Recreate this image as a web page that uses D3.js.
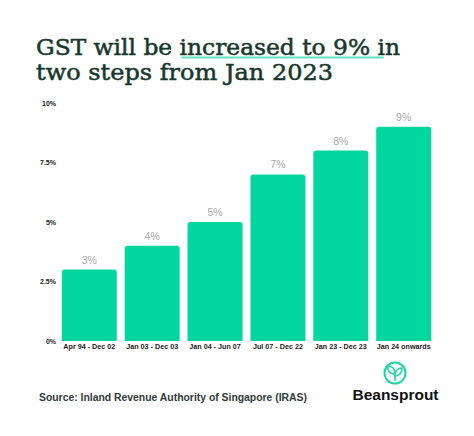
<!DOCTYPE html>
<html><head><meta charset="utf-8">
<script src="https://cdn.jsdelivr.net/npm/d3@7"></script>
<style>body{margin:0;background:#fff}svg{display:block}</style>
</head><body><svg id="c" width="474" height="436"></svg>
<script>
const categories = ["Apr 94 - Dec 02","Jan 03 - Dec 03","Jan 04 - Jun 07","Jul 07 - Dec 22","Jan 23 - Dec 23","Jan 24 onwards"];
const gstRates = [3,4,5,7,8,9];
const yTicks = [0,2.5,5,7.5,10];
const yTickLabels = ["0%","2.5%","5%","7.5%","10%"];
const titleLines = ["GST will be increased to 9% in","two steps from Jan 2023"];
const sourceText = "Source: Inland Revenue Authority of Singapore (IRAS)";

const svg = d3.select("#c");
svg.append("rect").attr("width",474).attr("height",436).attr("fill","#fff");

const x = d3.scaleBand().domain(categories).range([58,435]).paddingInner(0.125).paddingOuter(0.06);
const y = d3.scaleLinear().domain([0,10]).range([341,103]);

// title
const title = svg.append("g");
const tt = title.append("text")
  .attr("font-family","DejaVu Serif").attr("font-size",21.6).attr("fill","#17382f")
  .attr("stroke","#17382f").attr("stroke-width",0.5);
tt.append("tspan").attr("x",36).attr("y",54.5)
  .attr("textLength",364).attr("lengthAdjust","spacingAndGlyphs").text(titleLines[0]);
tt.append("tspan").attr("x",36).attr("y",80)
  .attr("textLength",297).attr("lengthAdjust","spacingAndGlyphs").text(titleLines[1]);
title.append("line").attr("x1",182).attr("x2",383).attr("y1",57.5).attr("y2",57.5)
  .attr("stroke","#5fe3c3").attr("stroke-width",2).attr("stroke-linecap","round");

// y axis labels
const yAxis = d3.axisLeft(y).tickValues(yTicks).tickFormat((d,i)=>yTickLabels[i]).tickSize(0).tickPadding(0);
const ya = svg.append("g").attr("transform","translate(56,0)").call(yAxis);
ya.select(".domain").remove();
ya.selectAll("text").attr("font-family","Liberation Sans").attr("font-weight","bold")
  .attr("font-size",7).attr("fill","#222");

// bars with rounded top corners
const r = 3;
svg.append("g").selectAll("path").data(gstRates).join("path")
  .attr("fill","#04d6a0")
  .attr("d",(d,i)=>{
    const x0 = x(categories[i]), w = x.bandwidth(), y0 = y(d), y1 = y(0);
    return `M${x0},${y1}V${y0+r}Q${x0},${y0} ${x0+r},${y0}H${x0+w-r}Q${x0+w},${y0} ${x0+w},${y0+r}V${y1}Z`;
  });

// value labels
svg.append("g").selectAll("text").data(gstRates).join("text")
  .attr("x",(d,i)=>x(categories[i])+x.bandwidth()/2)
  .attr("y",d=>y(d)-6)
  .attr("text-anchor","middle").attr("font-family","Liberation Sans")
  .attr("font-size",10.5).attr("fill","#a8a8a8").text(d=>d+"%");

// x axis labels
const xAxis = d3.axisBottom(x).tickSize(0).tickPadding(0);
const xa = svg.append("g").attr("transform","translate(0,344)").call(xAxis);
xa.select(".domain").remove();
xa.selectAll("text").attr("font-family","Liberation Sans").attr("font-weight","bold")
  .attr("font-size",7.2).attr("fill","#222");

// source
svg.append("text").attr("x",39).attr("y",401).attr("font-family","Liberation Sans")
  .attr("font-weight","bold").attr("font-size",10).attr("fill","#2f3b38")
  .attr("textLength",268).attr("lengthAdjust","spacingAndGlyphs").text(sourceText);

// logo
const logo = svg.append("g");
logo.append("circle").attr("cx",395).attr("cy",373).attr("r",10.5)
  .attr("fill","none").attr("stroke","#1ed6a0").attr("stroke-width",2);
logo.append("path").attr("d","M395,381V372 M395,374 C389,374 387,370 388,366 C392,366 395,369 395,374 Z M395,376 C395,371 398,368 402,368 C402,373 399,376 395,376 Z")
  .attr("fill","none").attr("stroke","#1ed6a0").attr("stroke-width",1.6).attr("stroke-linejoin","round");
logo.append("text").attr("x",352.5).attr("y",399.5).attr("font-family","Liberation Sans")
  .attr("font-weight","bold").attr("font-size",14.5).attr("fill","#111")
  .attr("textLength",86).attr("lengthAdjust","spacingAndGlyphs").text("Beansprout");
</script></body></html>
